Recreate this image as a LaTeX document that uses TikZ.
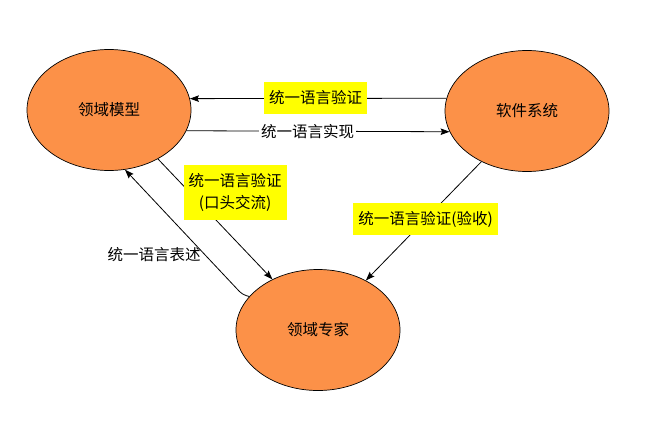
\documentclass[tikz,border=0pt]{standalone}
\usepackage{fontspec}
\setmainfont{Noto Sans CJK SC}
\usepackage{tikz}
\usetikzlibrary{shapes,arrows.meta,calc,positioning}
\definecolor{ddorange}{RGB}{252,145,72}
\definecolor{ddyellow}{RGB}{255,255,0}
\tikzset{
    auto,node distance =1 cm and 1 cm,
    every picture/.style={line width=0.8pt},
    state/.style ={ellipse, draw, fill=ddorange, line width=0.7pt, inner sep=0pt,
                   minimum width=164pt, minimum height=121pt},
    flow/.style={-{Stealth[length=9pt,width=6.5pt,inset=1.5pt]}},
    tag/.style = {fill=ddyellow, inner xsep=5pt, inner ysep=0pt, minimum height=32pt, align=center},
    el/.style = {inner sep=2pt, align=center}
}

\begin{document}
\begin{tikzpicture}[x=1pt,y=-1pt,font=\fontsize{15.5}{22}\selectfont]
        \useasboundingbox (0,0) rectangle (650,437);
        \node[state] (model) at (109,110) {领域模型};
        \node[state] (soft) at (527,111) {软件系统};
        \node[state] (expert) at (318,330) {领域专家};
        % Model and software
        \path[flow] (soft.171) edge (model.8.5);
        \path[flow] (model.-15.3) edge (soft.-165.4);
        % Model and expert
        \path[flow] (model.-45) edge (expert.132.7);
        \draw[flow, rounded corners=4pt] (expert.154) -- ++(-7,-2) -- (model.-75);
        % Software and expert
        \path[flow] (soft.-132) edge (expert.46);
        % Label the edges
        \node[tag] (checkA) at (315.5,98) {统一语言验证};
        \node[el, fill=white] (build) at (307.5,132) {统一语言实现};
        \node[tag, minimum height=55pt] (checkB) at (235,192.5) {统一语言验证\\(口头交流)};
        \node[el] (speak) at (154,255) {统一语言表述};
        \node[tag] (checkC) at (425.5,219) {统一语言验证(验收)};
\end{tikzpicture}
\end{document}
